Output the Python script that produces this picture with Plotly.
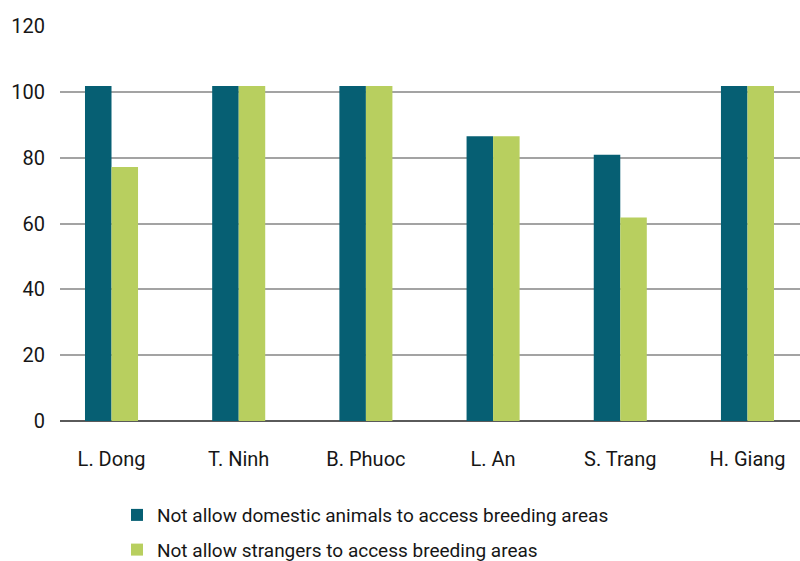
import plotly.graph_objects as go

# Provinces and the share (%) of farms applying each biosecurity measure
provinces = ["L. Dong", "T. Ninh", "B. Phuoc", "L. An", "S. Trang", "H. Giang"]
no_domestic_animals = [101.8, 101.8, 101.8, 86.5, 80.9, 101.8]
no_strangers = [77.2, 101.8, 101.8, 86.5, 61.8, 101.8]
y_ticks = [0, 20, 40, 60, 80, 100, 120]

DARK = "#065F73"
GREEN = "#B8CF5F"
TEXT = "#161616"
FONT = "Roboto"

fig = go.Figure()
fig.add_trace(go.Bar(
    x=list(range(len(provinces))), y=no_domestic_animals,
    name="Not allow domestic animals to access breeding areas",
    marker=dict(color=DARK, line=dict(width=0)),
    legendgroup="a",
))
fig.add_trace(go.Bar(
    x=list(range(len(provinces))), y=no_strangers,
    name="Not allow strangers to access breeding areas",
    marker=dict(color=GREEN, line=dict(width=0)),
    legendgroup="b",
))

fig.update_layout(
    width=800, height=561,
    margin=dict(l=60, r=0, t=26, b=140, autoexpand=False),
    paper_bgcolor="white", plot_bgcolor="white",
    barmode="group", bargap=0.583, bargroupgap=0,
    font=dict(family=FONT, size=20, color=TEXT),
    showlegend=True,
    legend=dict(
        orientation="v", x=0.077, y=-0.19, xanchor="left", yanchor="top",
        font=dict(family=FONT, size=19, color=TEXT),
        traceorder="grouped", tracegroupgap=7,
        itemsizing="constant",
    ),
    xaxis=dict(
        range=[-0.405, 5.413],
        tickmode="array", tickvals=list(range(len(provinces))), ticktext=provinces,
        showgrid=False, zeroline=False, showline=False, ticks="",
        ticklabelstandoff=24,
        tickfont=dict(family=FONT, size=20, color=TEXT),
    ),
    yaxis=dict(
        range=[0, 120], tickmode="array", tickvals=y_ticks,
        showgrid=True, gridcolor="#A3A3A3", gridwidth=1.5,
        zeroline=True, zerolinecolor="#5A5A5A", zerolinewidth=1.5,
        showline=False, ticks="", ticklabelstandoff=14,
        tickfont=dict(family=FONT, size=20, color=TEXT),
    ),
)

fig.write_html("out.html")
